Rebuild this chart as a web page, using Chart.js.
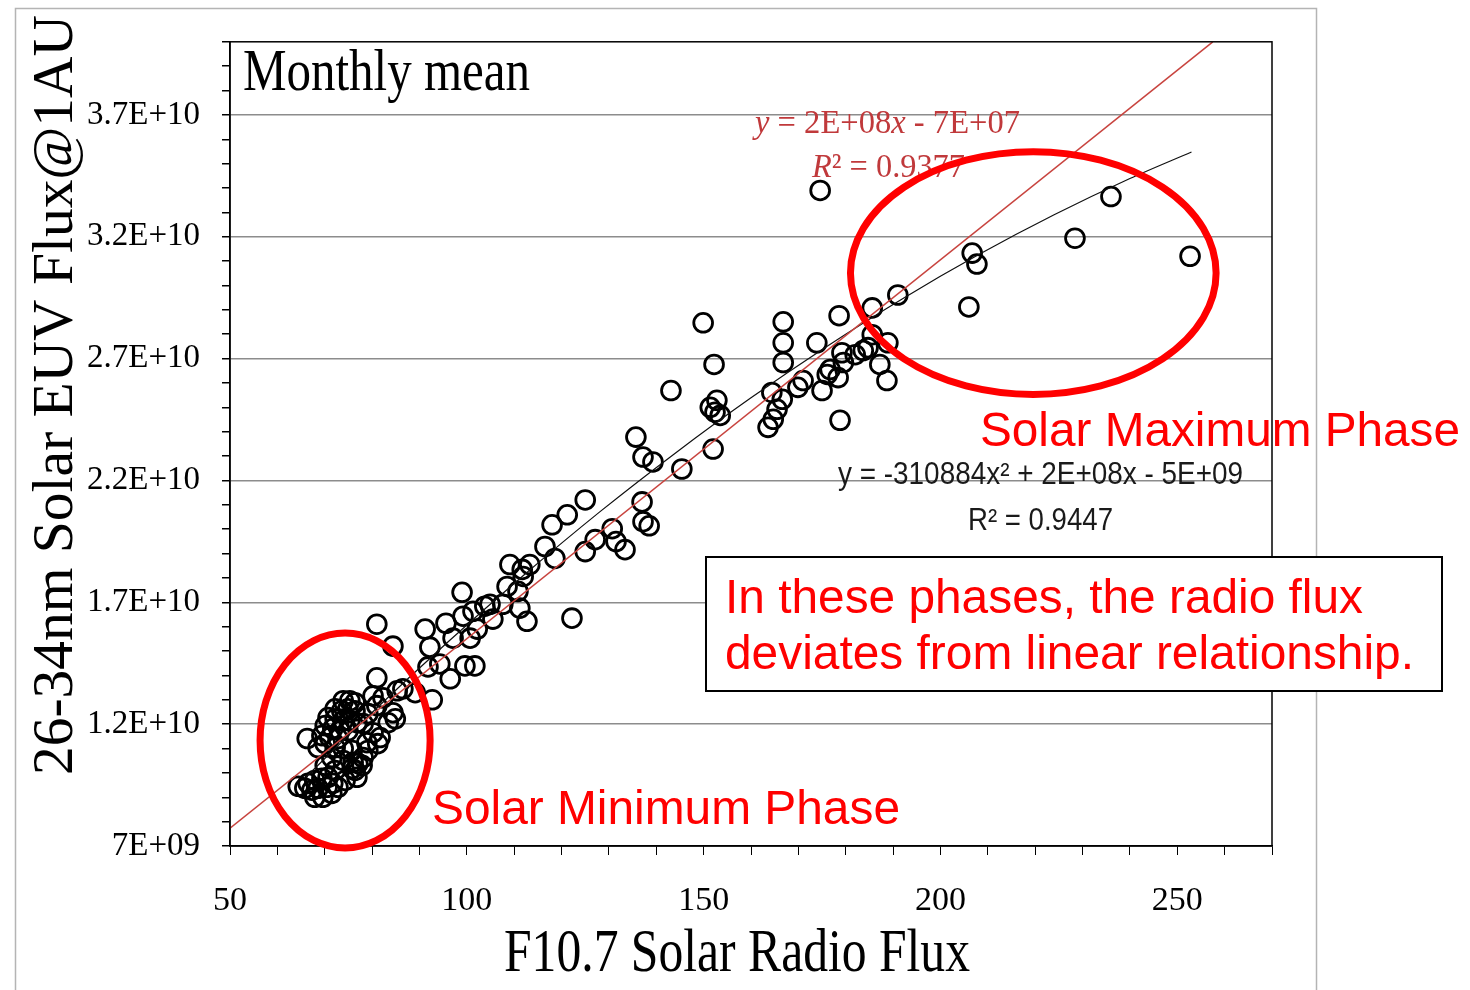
<!DOCTYPE html>
<html>
<head>
<meta charset="utf-8">
<title>EUV flux vs F10.7</title>
<script src="https://cdn.jsdelivr.net/npm/chart.js@4.4.1/dist/chart.umd.min.js"></script>
<style>
  html, body { margin: 0; padding: 0; background: #fff; }
  canvas { display: block; }
</style>
</head>
<body>
<canvas id="chart" width="1470" height="990"></canvas>
<script>
// F10.7 monthly mean (x) and 26-34nm EUV flux (y)
const f107 = [
  174.6, 236.0, 228.4, 206.7, 207.7, 252.7, 206.0, 191.0, 185.6, 178.6,
  166.8, 149.9, 166.8, 166.8, 152.2, 173.9, 188.9, 185.6, 179.2, 179.5,
  176.7, 178.4, 176.1, 182.0, 183.7, 184.7, 187.2, 188.7, 175.0, 171.0,
  169.9, 164.4, 166.6, 165.5, 164.7, 163.6, 178.8, 143.1, 152.8, 151.4,
  152.4, 153.5, 152.0, 135.7, 137.2, 139.3, 145.4, 125.0, 121.2, 118.0,
  137.0, 137.2, 138.5, 130.7, 127.1, 131.5, 133.4, 125.0, 116.5, 118.6,
  109.1, 111.7, 113.3, 111.9, 108.5, 110.8, 107.6, 111.2, 112.7, 122.2,
  104.9, 105.5, 103.8, 101.3, 99.2, 99.0, 102.2, 100.7, 95.6, 97.1,
  91.2, 92.2, 91.8, 94.3, 99.6, 101.7, 96.5, 81.0, 84.4, 81.0,
  86.5, 89.1, 92.7, 85.3, 82.3, 80.2, 84.4, 83.4, 81.0, 79.1,
  78.1, 84.9, 81.7, 80.2, 81.2, 78.9, 79.1, 78.1, 77.0, 76.4,
  77.9, 75.8, 76.8, 74.3, 66.3, 64.4, 73.9, 75.3, 76.4, 72.2,
  73.6, 74.9, 76.4, 70.7, 72.2, 73.9, 75.3, 76.8, 70.1, 71.7,
  73.2, 74.9, 69.4, 71.1, 72.8, 70.1, 72.2, 68.6, 73.9, 75.8,
  71.5, 73.9, 76.0, 70.1, 72.2, 66.5, 67.9, 69.4, 70.7, 67.3,
  68.6, 70.5, 71.7, 65.8, 67.9, 69.6, 71.5, 72.8
];
const euvFlux = [
  33.90e9, 33.65e9, 31.94e9, 31.33e9, 30.88e9, 31.20e9, 29.12e9, 29.61e9, 29.08e9, 28.76e9,
  28.51e9, 28.47e9, 27.65e9, 26.84e9, 26.76e9, 27.65e9, 27.65e9, 27.98e9, 27.24e9, 26.84e9,
  26.55e9, 26.22e9, 26.35e9, 27.16e9, 27.33e9, 27.45e9, 26.76e9, 26.10e9, 25.69e9, 26.10e9,
  25.82e9, 25.61e9, 25.33e9, 24.92e9, 24.51e9, 24.18e9, 24.47e9, 25.69e9, 25.29e9, 25.00e9,
  24.80e9, 24.67e9, 23.29e9, 23.78e9, 22.96e9, 22.76e9, 22.47e9, 21.20e9, 20.59e9, 20.18e9,
  21.12e9, 20.31e9, 20.14e9, 20.02e9, 19.57e9, 19.49e9, 19.16e9, 19.08e9, 19.29e9, 18.80e9,
  18.55e9, 18.35e9, 18.55e9, 18.06e9, 17.65e9, 17.45e9, 16.92e9, 16.76e9, 16.22e9, 16.35e9,
  16.92e9, 16.31e9, 16.84e9, 16.63e9, 16.43e9, 17.41e9, 15.90e9, 15.53e9, 16.14e9, 15.53e9,
  15.90e9, 15.16e9, 14.35e9, 14.47e9, 14.39e9, 14.39e9, 13.86e9, 16.10e9, 15.20e9, 13.90e9,
  13.45e9, 13.29e9, 13.00e9, 13.37e9, 13.08e9, 13.16e9, 12.47e9, 12.06e9, 12.76e9, 12.43e9,
  12.02e9, 12.22e9, 11.45e9, 11.65e9, 11.20e9, 11.24e9, 10.92e9, 10.63e9, 10.39e9, 10.10e9,
  10.31e9, 10.18e9, 9.82e9, 9.69e9, 11.41e9, 9.45e9, 12.96e9, 12.96e9, 12.88e9, 12.63e9,
  12.55e9, 12.63e9, 12.55e9, 12.27e9, 12.22e9, 12.14e9, 12.14e9, 12.06e9, 11.94e9, 11.82e9,
  11.73e9, 11.73e9, 11.53e9, 11.45e9, 11.41e9, 11.20e9, 11.04e9, 11.04e9, 11.00e9, 10.92e9,
  10.63e9, 10.51e9, 10.43e9, 10.31e9, 10.10e9, 9.57e9, 9.69e9, 9.78e9, 9.82e9, 9.29e9,
  9.37e9, 9.41e9, 9.57e9, 9.37e9, 9.00e9, 9.00e9, 9.16e9, 9.41e9
];

// linear trend line (red), end points
const linX = [50, 257.5];
const linY = [7.73e9, 40.0e9];

// polynomial trend line (black)
const polyX = [66, 80, 96, 112, 128, 144, 160, 176, 192, 208, 224, 240, 253];
const polyY = [9.82e9, 12.48e9, 15.37e9, 18.11e9, 20.70e9, 23.12e9, 25.39e9, 27.50e9, 29.46e9, 31.26e9, 32.90e9, 34.39e9, 35.48e9];

// axis ticks
const xTickValues = [50, 100, 150, 200, 250];
const xTickLabels = ['50', '100', '150', '200', '250'];
const yTickValues = [7e9, 12e9, 17e9, 22e9, 27e9, 32e9, 37e9];
const yTickLabels = ['7E+09', '1.2E+10', '1.7E+10', '2.2E+10', '2.7E+10', '3.2E+10', '3.7E+10'];

const toPts = (xs, ys) => xs.map((x, i) => ({ x: x, y: ys[i] }));
const findIdx = (arr, v) => arr.findIndex(a => Math.abs(a - v) < 1e-6 * Math.max(1, Math.abs(a)));

const SERIF = '"Liberation Serif", "Times New Roman", serif';
const SANS = '"Liberation Sans", Arial, sans-serif';

// draw text squeezed/stretched to a given width
function fitText(ctx, text, x, y, w, font, align) {
  ctx.font = font;
  const m = ctx.measureText(text).width;
  ctx.save();
  ctx.translate(x, y);
  ctx.scale(w / m, 1);
  ctx.textAlign = align || 'left';
  ctx.fillText(text, 0, 0);
  ctx.restore();
}

function fitRuns(ctx, runs, x, y, w) {
  let total = 0;
  runs.forEach(r => { ctx.font = r[1]; total += ctx.measureText(r[0]).width; });
  ctx.save();
  ctx.translate(x, y);
  ctx.scale(w / total, 1);
  ctx.textAlign = 'left';
  let cx = 0;
  runs.forEach(r => {
    ctx.font = r[1];
    ctx.fillText(r[0], cx, 0);
    cx += ctx.measureText(r[0]).width;
  });
  ctx.restore();
}

function ellipseAt(ctx, chart, cx, cy, rx, ry) {
  const sx = chart.scales.x, sy = chart.scales.y;
  const px = sx.getPixelForValue(cx), py = sy.getPixelForValue(cy);
  const prx = sx.getPixelForValue(cx + rx) - px;
  const pry = py - sy.getPixelForValue(cy + ry);
  ctx.beginPath();
  ctx.ellipse(px, py, prx, pry, 0, 0, Math.PI * 2);
  ctx.stroke();
}

const decor = {
  id: 'decor',
  beforeDraw(chart) {
    const ctx = chart.ctx;
    ctx.save();
    ctx.fillStyle = '#fff';
    ctx.fillRect(0, 0, chart.width, chart.height);
    ctx.strokeStyle = '#b4b4b4';
    ctx.lineWidth = 1.5;
    ctx.strokeRect(15.5, 8.5, 1301, 1000);
    ctx.restore();
  },
  afterDraw(chart) {
    const ctx = chart.ctx;
    const a = chart.chartArea;
    ctx.save();
    // plot box
    ctx.strokeStyle = '#000';
    ctx.lineWidth = 1.5;
    ctx.strokeRect(a.left, a.top, a.right - a.left, a.bottom - a.top);

    ctx.textBaseline = 'alphabetic';
    ctx.fillStyle = '#000';
    fitText(ctx, 'Monthly mean', 243, 90, 287, '60px ' + SERIF);

    // axis titles
    fitText(ctx, 'F10.7 Solar Radio Flux', 737, 971, 466, '62px ' + SERIF, 'center');
    ctx.save();
    ctx.translate(72, 395);
    ctx.rotate(-Math.PI / 2);
    fitText(ctx, '26-34nm Solar EUV Flux@1AU', 0, 0, 760, '56px ' + SERIF, 'center');
    ctx.restore();

    // linear fit label
    ctx.fillStyle = '#c0393b';
    const it = 'italic 34px ' + SERIF, rm = '34px ' + SERIF;
    fitRuns(ctx, [['y', it], [' = 2E+08', rm], ['x', it], [' - 7E+07', rm]], 755, 133, 265);
    fitRuns(ctx, [['R', it], ['\u00b2 = 0.9377', rm]], 812, 177, 153);

    // polynomial fit label
    ctx.fillStyle = '#1a1a1a';
    fitText(ctx, 'y = -310884x\u00b2 + 2E+08x - 5E+09', 838, 484, 405, '31px ' + SANS);
    fitText(ctx, 'R\u00b2 = 0.9447', 968, 530, 145, '31px ' + SANS);

    // red ellipses
    ctx.strokeStyle = '#f00';
    ctx.lineWidth = 7;
    ellipseAt(ctx, chart, 74.3, 11.33e9, 17.95, 4.41e9);
    ellipseAt(ctx, chart, 219.6, 30.51e9, 38.6, 4.98e9);

    // annotations
    ctx.fillStyle = '#f00';
    fitText(ctx, 'Solar Maximum Phase', 980, 446, 480, '48px ' + SANS);
    fitText(ctx, 'Solar Minimum Phase', 432, 824, 468, '48px ' + SANS);

    ctx.fillStyle = '#fff';
    ctx.fillRect(706, 557, 736, 134);
    ctx.strokeStyle = '#000';
    ctx.lineWidth = 2;
    ctx.strokeRect(706, 557, 736, 134);
    ctx.fillStyle = '#f00';
    fitText(ctx, 'In these phases, the radio flux', 725, 613, 638, '48px ' + SANS);
    fitText(ctx, 'deviates from linear relationship.', 725, 669, 689, '48px ' + SANS);
    ctx.restore();
  }
};

const ctx = document.getElementById('chart').getContext('2d');
const chart = new Chart(ctx, {
  type: 'scatter',
  data: {
    datasets: [
      {
        label: 'Linear fit',
        type: 'line',
        data: toPts(linX, linY),
        borderColor: '#c8443f',
        borderWidth: 1.5,
        pointRadius: 0,
        fill: false
      },
      {
        label: 'Poly. fit',
        type: 'line',
        data: toPts(polyX, polyY),
        borderColor: '#111',
        borderWidth: 1.2,
        pointRadius: 0,
        cubicInterpolationMode: 'monotone',
        fill: false
      },
      {
        label: 'Monthly mean',
        data: toPts(f107, euvFlux),
        pointRadius: 9.4,
        pointBorderWidth: 2.8,
        borderColor: '#000',
        backgroundColor: 'rgba(0,0,0,0)'
      }
    ]
  },
  options: {
    responsive: false,
    animation: false,
    layout: { padding: { left: 0, top: 38, right: 198, bottom: 0 } },
    plugins: {
      legend: { display: false },
      tooltip: { enabled: false }
    },
    scales: {
      x: {
        type: 'linear',
        min: 50,
        max: 270,
        afterFit: s => { s.height = 144; },
        border: { color: '#000', width: 1.5 },
        grid: { drawOnChartArea: false, color: '#000', tickColor: '#000', tickLength: 9 },
        ticks: {
          stepSize: 10,
          maxTicksLimit: 100,
          autoSkip: false,
          maxRotation: 0,
          padding: 26,
          color: '#000',
          font: { family: SERIF, size: 34 },
          callback: v => { const i = findIdx(xTickValues, v); return i >= 0 ? xTickLabels[i] : ''; }
        }
      },
      y: {
        type: 'linear',
        min: 7e9,
        max: 40e9,
        afterFit: s => { s.width = 230; },
        border: { color: '#000', width: 1.5 },
        grid: {
          color: c => (c.tick && findIdx(yTickValues, c.tick.value) > 0) ? '#8c8c8c' : 'rgba(0,0,0,0)',
          lineWidth: 1.5,
          tickColor: '#000',
          tickLength: 8
        },
        ticks: {
          stepSize: 1e9,
          maxTicksLimit: 100,
          autoSkip: false,
          padding: 22,
          color: '#000',
          font: { family: SERIF, size: 33 },
          callback: v => { const i = findIdx(yTickValues, v); return i >= 0 ? yTickLabels[i] : ''; }
        }
      }
    }
  },
  plugins: [decor]
});
</script>
</body>
</html>
